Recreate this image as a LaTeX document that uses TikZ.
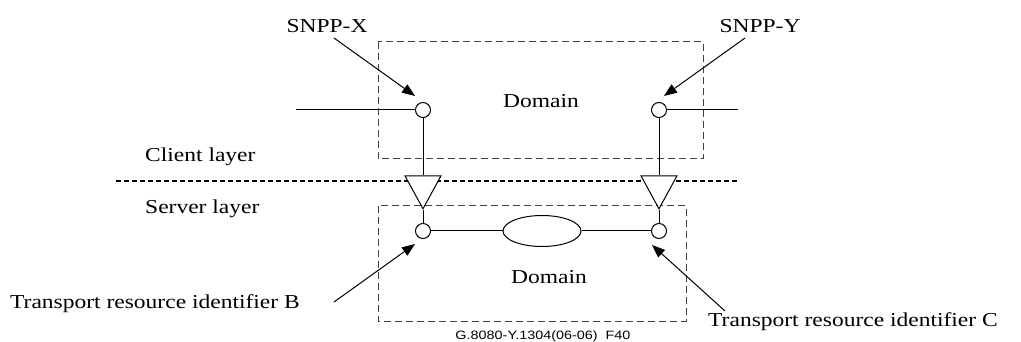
\documentclass[tikz,border=0pt]{standalone}
\usepackage{fontspec}
\usepackage{graphicx}
\setmainfont{Liberation Serif}
\newfontfamily\figsans{Liberation Sans}
\usetikzlibrary{arrows.meta,shapes.geometric}
\newcommand{\sq}[1]{\scalebox{1}[0.84]{#1}}
\begin{document}
\begin{tikzpicture}[x=1pt,y=-1pt,
  lbl/.style={inner sep=0pt,font=\fontsize{23.5}{26}\selectfont},
  domainbox/.style={draw=black!75,line width=1pt,dash pattern=on 7pt off 4pt},
  layerline/.style={draw=black,line width=2.6pt,dash pattern=on 5pt off 3pt},
  wire/.style={draw=black,line width=1pt},
  port/.style={circle,draw=black,line width=1pt,fill=white,minimum size=15pt,inner sep=0pt},
  adapt/.style={isosceles triangle,shape border rotate=-90,isosceles triangle stretches,draw=black,line width=1pt,fill=white,minimum width=36pt,minimum height=33pt,inner sep=0pt},
  link/.style={ellipse,draw=black,line width=1pt,fill=white,minimum width=78pt,minimum height=31pt,inner sep=0pt},
  pointer/.style={draw=black,line width=1pt,-{Triangle[length=13pt,width=10pt]}}]
\useasboundingbox (0,0) rectangle (1021,342);
% domain boxes
\draw[domainbox] (378,42) rectangle (703,159);
\draw[domainbox] (378,206) rectangle (686,321);
% layer separator
\coordinate (ls) at (116,181);
\coordinate (le) at (738,181);
\draw[layerline] (ls) -- (le);
% client-layer wires
\coordinate (xw) at (296,110);
\coordinate (yw) at (738,110);
\node[port] (px) at (423,110) {};
\node[port] (py) at (659,110) {};
\node[adapt] (tx) at (423,186.5) {};
\node[adapt] (ty) at (659,186.5) {};
\node[port] (pb) at (423,231) {};
\node[port] (pc) at (659,231) {};
\node[link] (lk) at (542,231) {};
\draw[wire] (xw) -- (px.west);
\draw[wire] (py.east) -- (yw);
\draw[wire] (px.south) -- (tx.north);
\draw[wire] (py.south) -- (ty.north);
\draw[wire] (tx.south) -- (pb.north);
\draw[wire] (ty.south) -- (pc.north);
\draw[wire] (pb.east) -- (lk.west);
\draw[wire] (lk.east) -- (pc.west);
% labels
\node[lbl] (dt) at (541,101) {\sq{Domain}};
\node[lbl] (db) at (549,277) {\sq{Domain}};
\node[lbl,anchor=base west] (cl) at (145,162) {\sq{Client layer}};
\node[lbl,anchor=base west] (sl) at (145,214) {\sq{Server layer}};
\node[lbl] (snx) at (327,26) {\sq{SNPP-X}};
\node[lbl] (sny) at (760,26) {\sq{SNPP-Y}};
\node[lbl,anchor=west] (trb) at (10,304) {\sq{Transport resource identifier B}};
\node[lbl,anchor=west] (trc) at (708,322) {\sq{Transport resource identifier C}};
\node[inner sep=0pt,font=\figsans\fontsize{14.4}{16}\selectfont] (fig) at (543,336) {\scalebox{1}[0.84]{G.8080-Y.1304(06-06)\ \ F40}};
% pointers
\coordinate (ax0) at (334,38);  \coordinate (ax1) at (415,96);
\coordinate (ay0) at (745,38);  \coordinate (ay1) at (664,96);
\coordinate (ab0) at (334,302); \coordinate (ab1) at (415,244);
\coordinate (ac0) at (725,311); \coordinate (ac1) at (652,245);
\draw[pointer] (ax0) -- (ax1);
\draw[pointer] (ay0) -- (ay1);
\draw[pointer] (ab0) -- (ab1);
\draw[pointer] (ac0) -- (ac1);
\end{tikzpicture}
\end{document}
